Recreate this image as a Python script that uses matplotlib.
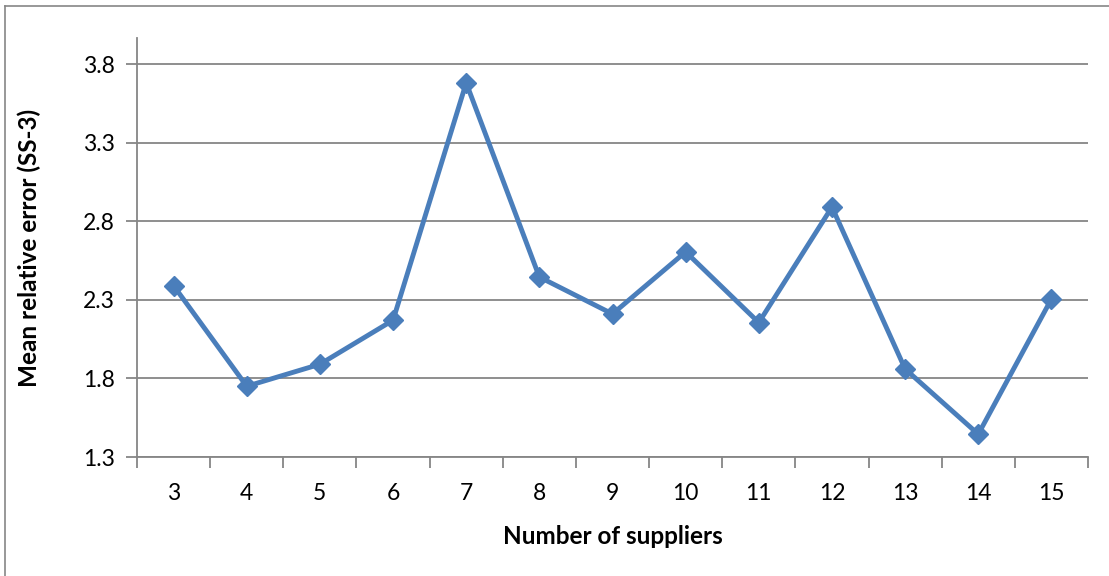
import numpy as np
import matplotlib.pyplot as plt

# suppliers vs mean relative error (SS-3)
suppliers = [3, 4, 5, 6, 7, 8, 9, 10, 11, 12, 13, 14, 15]
mre = [2.39, 1.75, 1.89, 2.17, 3.68, 2.445, 2.21, 2.605, 2.155, 2.89, 1.86, 1.445, 2.305]
yticks = [1.3, 1.8, 2.3, 2.8, 3.3, 3.8]

plt.rcParams['font.family'] = ['Lato', 'DejaVu Sans']

fig = plt.figure(figsize=(11.09, 5.76), dpi=100)
ax = fig.add_axes([137/1109, 1 - 457/576, (1088-137)/1109, (457-38)/576])

# outer chart border (cropped: only left and top visible)
fig.add_artist(plt.Line2D([5/1109, 5/1109], [0, 1 - 6/576], color='#868686', lw=1.2))
fig.add_artist(plt.Line2D([5/1109, 1], [1 - 6/576, 1 - 6/576], color='#868686', lw=1.2))

x = np.arange(len(suppliers))
ax.plot(x, mre, color='#4A7EBB', lw=3.5, marker='D', markersize=10,
        markerfacecolor='#4A7EBB', markeredgecolor='#4A7EBB', zorder=3, clip_on=False)

ax.set_xlim(-0.5, len(suppliers) - 0.5)
ax.set_ylim(1.3, 3.8 + 0.5 * (64 - 38) / 78.6)
ax.set_yticks(yticks)
ax.set_yticklabels([f'{v:.1f}' for v in yticks])
ax.set_xticks(x)
ax.set_xticklabels([str(s) for s in suppliers])
ax.set_xticks(np.arange(len(suppliers) + 1) - 0.5, minor=True)

ax.grid(axis='y', color='#868686', lw=1.3)
ax.set_axisbelow(True)
for s in ['top', 'right']:
    ax.spines[s].set_visible(False)
for s in ['left', 'bottom']:
    ax.spines[s].set_color('#868686')
    ax.spines[s].set_linewidth(1.3)

ax.tick_params(axis='x', which='major', length=0, pad=19, labelsize=16.5)
ax.tick_params(axis='x', which='minor', length=8, color='#868686', width=1.3)
ax.tick_params(axis='y', length=8, color='#868686', width=1.3, pad=8, labelsize=16.5)

ax.set_xlabel('Number of suppliers', fontsize=17.5, fontweight='bold', labelpad=15)
ax.set_ylabel('Mean relative error (SS-3)', fontsize=17.5, fontweight='bold', labelpad=30)

fig.savefig('out.png', dpi=100)
